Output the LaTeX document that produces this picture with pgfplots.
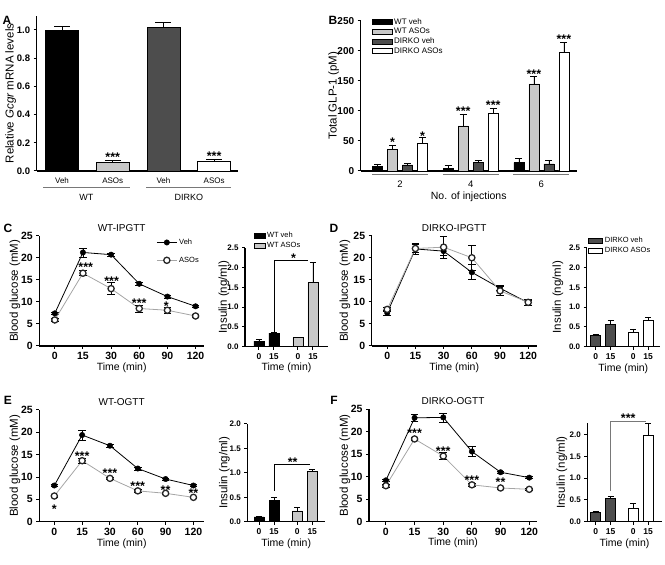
\documentclass[border=0pt]{standalone}
\usepackage{pgfplots}
\pgfplotsset{compat=1.18}
\usepackage{fontspec}
\setmainfont{Liberation Sans}
\definecolor{lgray}{RGB}{200,200,200}
\definecolor{dgray}{RGB}{77,77,77}
\definecolor{lline}{RGB}{165,165,165}
\definecolor{uline}{RGB}{120,120,120}
\newcommand{\fs}[1]{\fontsize{#1}{#1}\selectfont}
\tikzset{stars/.style={font=\fs{12.5}\bfseries, inner sep=0pt, anchor=center, yshift=-2.7pt}}
\pgfplotsset{
  base/.style={scale only axis, anchor=south west,
    axis x line*=bottom, axis y line*=left,
    axis line style={line width=1.3pt,-},
    enlargelimits=false, clip=false,
    /pgf/number format/assume math mode=true,
    major tick length=3pt, tick align=outside,
    tick style={black, line width=1pt},
    yticklabel style={font=\fs{10}\bfseries},
    xticklabel style={font=\fs{10}\bfseries},
    every axis y label/.style={at={(axis description cs:0,0.5)}, rotate=90, anchor=center, font=\fs{11.5}},
    every axis x label/.style={at={(axis description cs:0.5,0)}, anchor=center, yshift=-22pt, font=\fs{10.5}},
    every axis title/.style={at={(axis description cs:0.5,1)}, anchor=center, yshift=8pt, font=\fs{10}},
  },
  ylabx/.style={ylabel style={at={(axis description cs:#1,0.5)}}},
  onedec/.style={yticklabel style={/pgf/number format/fixed, /pgf/number format/fixed zerofill, /pgf/number format/precision=1}},
  linech/.style={base, xmin=-0.55, xmax=5.3, ymin=0, ymax=25, ytick={0,5,10,15,20,25},
    xtick={0,1,2,3,4,5}, xticklabels={0,15,30,60,90,120},
    yticklabel style={font=\fs{10.5}\bfseries}, xticklabel style={font=\fs{10.5}\bfseries},
    xlabel={Time (min)}, ylabel={Blood glucose (mM)}},
  inset/.style={base, onedec, ymin=0, xticklabels={0,15,0,15}, xlabel={Time (min)}, ylabel={Insulin (ng/ml)},
    yticklabel style={font=\fs{8}\bfseries}, xticklabel style={font=\fs{8.5}\bfseries}},
  vehline/.style={black, line width=0.8pt, mark=*, mark size=2.7pt, mark options={fill=black, draw=black, line width=0.5pt},
    error bars/y dir=both, error bars/y explicit, error bars/error bar style={black, line width=0.7pt},
    error bars/error mark options={rotate=90, mark size=3.8pt, line width=0.7pt, black}},
  asoline/.style={lline, line width=0.8pt, mark=*, mark size=3.1pt, mark options={draw=black!85, fill=white, line width=1.3pt},
    error bars/y dir=both, error bars/y explicit, error bars/error bar style={black, line width=0.7pt},
    error bars/error mark options={rotate=90, mark size=3.8pt, line width=0.7pt, black}},
  ebar/.style={bar shift=0pt, draw=black, line width=0.5pt, error bars/y dir=plus, error bars/y explicit,
    error bars/error bar style={black, line width=0.7pt},
    error bars/error mark options={rotate=90, mark size=#1, line width=0.7pt, black}},
}
\begin{document}
\begin{tikzpicture}
\useasboundingbox (0,0) rectangle (665pt,565pt);
% panel letters
\node[font=\fs{12}\bfseries] at (7pt,545pt) {A};
\node[font=\fs{12}\bfseries] at (333pt,545pt) {B};
\node[font=\fs{12}\bfseries] at (8pt,337pt) {C};
\node[font=\fs{12}\bfseries] at (334pt,337pt) {D};
\node[font=\fs{12}\bfseries] at (8pt,165pt) {E};
\node[font=\fs{12}\bfseries] at (334pt,165pt) {F};

% ---------- A ----------
\begin{axis}[base, onedec, at={(36.7pt,394pt)}, width=201.3pt, height=155.1pt,
  ybar, bar width=33pt, xmin=-0.5, xmax=3.47, ymin=0, ymax=1.1,
  ytick={0,0.2,0.4,0.6,0.8,1.0},
  yticklabel style={font=\fs{9.5}\bfseries},
  xtick={0,1,2,3}, xticklabels={Veh,ASOs,Veh,ASOs}, xtick style={draw=none},
  xticklabel style={font=\fs{8}\mdseries},
  ylabx=-0.13,
  ylabel={Relative \textit{Gcgr} mRNA levels}]
\addplot[fill=black, ebar=8pt] coordinates {(0,1.0) +- (0,0.027)};
\addplot[fill=lgray, ebar=8pt] coordinates {(1,0.065) +- (0,0.007)};
\addplot[fill=dgray, ebar=8pt] coordinates {(2,1.017) +- (0,0.037)};
\addplot[fill=white, ebar=8pt] coordinates {(3,0.067) +- (0,0.016)};
\node[stars] at (axis cs:1,0.12) {***};
\node[stars] at (axis cs:3,0.125) {***};
\draw[uline, line width=1pt] ([yshift=-17pt]axis cs:-0.375,0) -- ([yshift=-17pt]axis cs:1.34,0);
\draw[uline, line width=1pt] ([yshift=-17pt]axis cs:1.66,0) -- ([yshift=-17pt]axis cs:3.34,0);
\node[font=\fs{9}] at ([yshift=-26pt]axis cs:0.48,0) {WT};
\node[font=\fs{9}] at ([yshift=-26pt]axis cs:2.5,0) {DIRKO};
\end{axis}

% ---------- B ----------
\begin{axis}[base, at={(360.7pt,394pt)}, width=216pt, height=150.3pt,
  ybar=5pt, bar width=10pt, xmin=0.887, xmax=7.0, ymin=0, ymax=250, ytick={0,50,100,150,200,250},
  xtick={2,4,6}, xtick style={draw=none}, xticklabel style={font=\fs{9.5}\mdseries, yshift=-3pt},
  xlabel={No. of injections}, ylabel={Total GLP-1 (pM)},
  xlabel style={yshift=-3.7pt}, ylabx=-0.125,
  legend style={at={(axis description cs:0.05,1.03)}, anchor=north west, draw=none, fill=none, font=\fs{8}, row sep=-1.5pt, inner sep=0pt},
  legend cell align=left,
  legend image code/.code={\draw[#1] (0pt,-2.5pt) rectangle (20pt,2.5pt);}]
\addplot[fill=black, draw=black, line width=0.5pt, error bars/y dir=plus, error bars/y explicit, error bars/error bar style={black, line width=0.7pt}, error bars/error mark options={rotate=90, mark size=3.5pt, line width=0.7pt, black}]
  coordinates {(2,8.3) +- (0,3.4) (4,4.4) +- (0,5) (6,14) +- (0,6.5)};
\addplot[fill=lgray, draw=black, line width=0.5pt, error bars/y dir=plus, error bars/y explicit, error bars/error bar style={black, line width=0.7pt}, error bars/error mark options={rotate=90, mark size=3.5pt, line width=0.7pt, black}]
  coordinates {(2,36) +- (0,7) (4,75) +- (0,20) (6,145) +- (0,12)};
\addplot[fill=dgray, draw=black, line width=0.5pt, error bars/y dir=plus, error bars/y explicit, error bars/error bar style={black, line width=0.7pt}, error bars/error mark options={rotate=90, mark size=3.5pt, line width=0.7pt, black}]
  coordinates {(2,10) +- (0,2.8) (4,13.9) +- (0,3.9) (6,11.7) +- (0,6.1)};
\addplot[fill=white, draw=black, line width=0.5pt, error bars/y dir=plus, error bars/y explicit, error bars/error bar style={black, line width=0.7pt}, error bars/error mark options={rotate=90, mark size=3.5pt, line width=0.7pt, black}]
  coordinates {(2,46) +- (0,9.6) (4,96) +- (0,8) (6,198) +- (0,16)};
\legend{WT veh, WT ASOs, DIRKO veh, DIRKO ASOs}
\node[stars] at ([xshift=-7.5pt]axis cs:2,52.7) {*};
\node[stars] at ([xshift=22.5pt]axis cs:2,62.7) {*};
\node[stars] at ([xshift=-7.5pt]axis cs:4,104) {***};
\node[stars] at ([xshift=22.5pt]axis cs:4,113.6) {***};
\node[stars] at ([xshift=-7.5pt]axis cs:6,166) {***};
\node[stars] at ([xshift=22.5pt]axis cs:6,223.5) {***};
\draw[uline, line width=1.2pt] ([yshift=-3.5pt]axis cs:1.21,0) -- ([yshift=-3.5pt]axis cs:2.79,0);
\draw[uline, line width=1.2pt] ([yshift=-3.5pt]axis cs:3.21,0) -- ([yshift=-3.5pt]axis cs:4.79,0);
\draw[uline, line width=1.2pt] ([yshift=-3.5pt]axis cs:5.21,0) -- ([yshift=-3.5pt]axis cs:6.79,0);
\end{axis}

% ---------- C line ----------
\begin{axis}[linech, at={(39.3pt,219pt)}, width=164.7pt, height=110.3pt, title={WT-IPGTT},
  ylabx=-0.1475,
  legend style={at={(axis description cs:0.71,0.99)}, anchor=north west, draw=none, fill=none, font=\fs{7.5}, row sep=7pt, inner sep=0pt},
  legend cell align=left,
  legend image code/.code={\draw[mark repeat=2, mark phase=2, #1] plot coordinates {(0pt,0pt) (10pt,0pt) (20pt,0pt)};}]
\addplot[vehline] coordinates {(0,7.4) +- (0,0.3) (1,21.2) +- (0,1.0) (2,20.7) +- (0,0.3) (3,14.1) +- (0,0.3) (4,11.2) +- (0,0.3) (5,9.0) +- (0,0.2)};
\addplot[asoline] coordinates {(0,5.9) +- (0,0.3) (1,16.5) +- (0,0.6) (2,13.0) +- (0,1.4) (3,8.5) +- (0,0.8) (4,8.1) +- (0,0.7) (5,6.8) +- (0,0.3)};
\legend{Veh, ASOs}
\node[stars] at (axis cs:1.1,18.4) {***};
\node[stars] at (axis cs:2.02,15.3) {***};
\node[stars] at (axis cs:3.0,10.3) {***};
\node[stars] at (axis cs:3.96,9.6) {*};
\end{axis}

% ---------- C inset ----------
\begin{axis}[inset, at={(245pt,218.3pt)}, width=83pt, height=99pt, ymax=2.5,
  ytick={0,0.5,1.0,1.5,2.0,2.5}, xmin=-0.93, xmax=4.6, xtick={0,1,2.6,3.6},
  ylabx=-0.253, xlabel style={yshift=0.6pt},
  legend style={at={(axis description cs:0.1,1.18)}, anchor=north west, draw=none, fill=none, font=\fs{7.5}, row sep=-1pt, inner sep=0pt},
  legend cell align=left,
  legend image code/.code={\draw[#1] (0pt,-2.5pt) rectangle (11pt,2.5pt);}]
\addplot[ybar, bar width=10pt, fill=black, ebar=3pt] coordinates {(0,0.14) +- (0,0.05) (1,0.34) +- (0,0.012)};
\addplot[ybar, bar width=10pt, fill=lgray, ebar=3pt] coordinates {(2.6,0.23) +- (0,0.01) (3.6,1.62) +- (0,0.5)};
\legend{WT veh, WT ASOs}
\draw[black, line width=0.8pt] (axis cs:1,0.38) -- (axis cs:1,2.19) -- (axis cs:3.3,2.19);
\node[stars] at (axis cs:2.3,2.3) {*};
\end{axis}

% ---------- D line ----------
\begin{axis}[linech, at={(371.7pt,219pt)}, width=165pt, height=110.3pt, title={DIRKO-IPGTT},
  ylabx=-0.1618]
\addplot[vehline] coordinates {(0,7.5) +- (0,0.6) (1,22.0) +- (0,1.3) (2,21.5) +- (0,1.0) (3,16.7) +- (0,1.7) (4,13.1) +- (0,0.6) (5,9.8) +- (0,0.6)};
\addplot[asoline] coordinates {(0,8.3) +- (0,0.4) (1,22.1) +- (0,0.9) (2,22.4) +- (0,2.5) (3,20.0) +- (0,2.8) (4,12.5) +- (0,1.0) (5,9.9) +- (0,0.6)};
\end{axis}

% ---------- D inset ----------
\begin{axis}[inset, at={(586.7pt,218.3pt)}, width=73.3pt, height=99pt, ymax=2.5,
  ytick={0,0.5,1.0,1.5,2.0,2.5}, xmin=-0.6, xmax=4.29, xtick={0,1,2.5,3.5},
  ylabx=-0.3915, xlabel style={yshift=0.4pt},
  legend style={at={(axis description cs:0.02,1.13)}, anchor=north west, draw=none, fill=none, font=\fs{7.5}, row sep=-1pt, inner sep=0pt},
  legend cell align=left,
  legend image code/.code={\draw[#1] (0pt,-2.5pt) rectangle (14pt,2.5pt);}]
\addplot[ybar, bar width=10pt, fill=dgray, ebar=3pt] coordinates {(0,0.28) +- (0,0.04) (1,0.57) +- (0,0.1)};
\addplot[ybar, bar width=10pt, fill=white, ebar=3pt] coordinates {(2.5,0.37) +- (0,0.08) (3.5,0.67) +- (0,0.08)};
\legend{DIRKO veh, DIRKO ASOs}
\end{axis}

% ---------- E line ----------
\begin{axis}[linech, at={(39.3pt,43.3pt)}, width=164.7pt, height=111.7pt, xmin=-0.54, xmax=5.38, title={WT-OGTT},
  ylabx=-0.1475]
\addplot[vehline] coordinates {(0,8.1) +- (0,0.2) (1,19.4) +- (0,1.1) (2,17.0) +- (0,0.3) (3,11.9) +- (0,0.3) (4,9.55) +- (0,0.2) (5,8.1) +- (0,0.2)};
\addplot[asoline] coordinates {(0,5.75) +- (0,0.2) (1,13.65) +- (0,0.6) (2,9.7) +- (0,0.3) (3,6.9) +- (0,0.3) (4,6.35) +- (0,0.3) (5,5.45) +- (0,0.3)};
\node[stars] at (axis cs:0,3.4) {*};
\node[stars] at (axis cs:1,15.3) {***};
\node[stars] at (axis cs:2,11.4) {***};
\node[stars] at (axis cs:3,8.6) {***};
\node[stars] at (axis cs:4,7.7) {**};
\node[stars] at (axis cs:5,6.9) {**};
\end{axis}

% ---------- E inset ----------
\begin{axis}[inset, at={(247.3pt,43.3pt)}, width=77.7pt, height=97.7pt, ymax=2.0,
  ytick={0,0.5,1.0,1.5,2.0}, xmin=-0.78, xmax=4.4, xtick={0,1,2.55,3.55},
  ylabx=-0.2934, xlabel style={yshift=0.4pt}]
\addplot[ybar, bar width=10pt, fill=black, ebar=3pt] coordinates {(0,0.10) +- (0,0.015) (1,0.44) +- (0,0.06)};
\addplot[ybar, bar width=10pt, fill=lgray, ebar=3pt] coordinates {(2.55,0.22) +- (0,0.08) (3.55,1.03) +- (0,0.04)};
\draw[black, line width=0.8pt] (axis cs:1,0.63) -- (axis cs:1,1.175) -- (axis cs:3.4,1.175);
\node[stars] at (axis cs:2.25,1.27) {**};
\end{axis}

% ---------- F line ----------
\begin{axis}[linech, at={(369pt,43.3pt)}, width=168pt, height=112.4pt, xmin=-0.59, xmax=5.27, title={DIRKO-OGTT},
  ylabx=-0.1429, xlabel style={yshift=0.6pt}]
\addplot[vehline] coordinates {(0,9.2) +- (0,0.2) (1,23.1) +- (0,0.7) (2,23.2) +- (0,1.0) (3,15.6) +- (0,1.1) (4,11.0) +- (0,0.2) (5,9.8) +- (0,0.2)};
\addplot[asoline] coordinates {(0,8.0) +- (0,0.3) (1,18.4) +- (0,0.3) (2,14.6) +- (0,0.8) (3,8.2) +- (0,0.3) (4,7.5) +- (0,0.2) (5,7.2) +- (0,0.2)};
\node[stars] at (axis cs:1,20.3) {***};
\node[stars] at (axis cs:2,16.2) {***};
\node[stars] at (axis cs:3,9.8) {***};
\node[stars] at (axis cs:4,9.3) {**};
\end{axis}

% ---------- F inset ----------
\begin{axis}[inset, at={(587.3pt,43.3pt)}, width=74.4pt, height=98.4pt, ymax=2.26,
  ytick={0,0.5,1.0,1.5,2.0}, xmin=-0.56, xmax=4.4, xtick={0,1,2.5,3.5},
  ylabx=-0.34, xlabel style={yshift=0.4pt}]
\addplot[ybar, bar width=10pt, fill=dgray, ebar=3pt] coordinates {(0,0.21) +- (0,0.035) (1,0.54) +- (0,0.05)};
\addplot[ybar, bar width=10pt, fill=white, ebar=3pt] coordinates {(2.5,0.32) +- (0,0.09) (3.5,1.99) +- (0,0.26)};
\draw[uline, line width=0.8pt] (axis cs:1,0.7) -- (axis cs:1,2.3) -- (axis cs:3.36,2.3);
\node[stars] at (axis cs:2.17,2.43) {***};
\end{axis}
\end{tikzpicture}
\end{document}
